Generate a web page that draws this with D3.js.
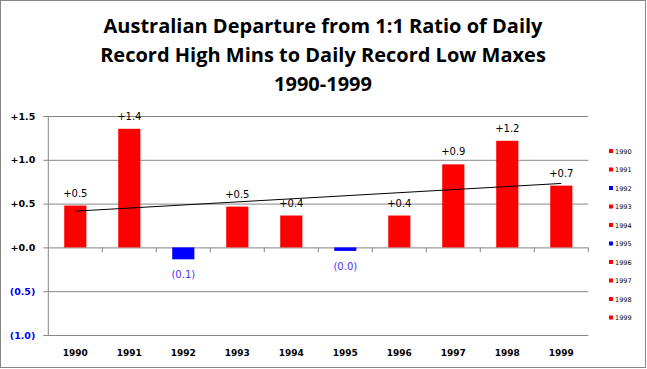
<!DOCTYPE html>
<html>
<head>
<meta charset="utf-8">
<script src="https://cdn.jsdelivr.net/npm/d3@7"></script>
<style>
  body { margin: 0; background: #fff; }
  svg { display: block; }
</style>
</head>
<body>
<svg id="chart"></svg>
<script>
// values
var years = ["1990", "1991", "1992", "1993", "1994", "1995", "1996", "1997", "1998", "1999"];
var departure = [0.478, 1.354, -0.136, 0.466, 0.364, -0.04, 0.364, 0.948, 1.217, 0.705];
var yTicks = [-1.0, -0.5, 0, 0.5, 1.0, 1.5];
var titleLines = ["Australian Departure from 1:1 Ratio of Daily",
                  "Record High Mins to Daily Record Low Maxes",
                  "1990-1999"];

var width = 647, height = 369;
var plotLeft = 48.3, plotRight = 588.3, plotTop = 116, plotBottom = 335;

var red = "#ff0000", blue = "#0000ff", grid = "#868686";

var svg = d3.select("#chart")
  .attr("width", width)
  .attr("height", height);

// outer frame
svg.append("rect")
  .attr("x", 0.5).attr("y", 0.5)
  .attr("width", width - 2).attr("height", height - 2)
  .attr("fill", "#fff")
  .attr("stroke", grid);

// title
svg.append("g").selectAll("text")
  .data(titleLines)
  .join("text")
  .attr("x", 323)
  .attr("y", function(d, i) { return 33 + i * 29; })
  .attr("text-anchor", "middle")
  .style("font-family", "'Open Sans', Lato, sans-serif")
  .style("font-weight", "bold")
  .style("font-size", "20px")
  .text(function(d) { return d; });

var x = d3.scaleBand()
  .domain(years)
  .range([plotLeft, plotRight])
  .padding(0);

var y = d3.scaleLinear()
  .domain([-1, 1.5])
  .range([plotBottom, plotTop]);

var barW = x.bandwidth() * 0.41;

function fmt(v) {
  return v >= 0 ? "+" + v.toFixed(1) : "(" + Math.abs(v).toFixed(1) + ")";
}

// gridlines + y labels
var yAxis = d3.axisLeft(y)
  .tickValues(yTicks)
  .tickSize(0)
  .tickFormat(fmt);

var gy = svg.append("g")
  .attr("transform", "translate(" + (plotLeft - 5) + ",0)")
  .call(yAxis);
gy.select(".domain").remove();
gy.selectAll(".tick line")
  .attr("x1", 0)
  .attr("x2", plotRight - plotLeft + 5)
  .attr("stroke", grid);
gy.selectAll(".tick text")
  .attr("x", -8)
  .style("font-family", "'DejaVu Sans', sans-serif")
  .style("font-weight", "bold")
  .style("font-size", "9.5px")
  .attr("fill", function(d) { return d < 0 ? blue : "#000"; });

// left axis line
svg.append("line")
  .attr("x1", plotLeft).attr("x2", plotLeft)
  .attr("y1", plotTop).attr("y2", plotBottom)
  .attr("stroke", grid);

// category ticks on the zero line
svg.append("g").selectAll("line")
  .data(years.slice(1).concat(["end"]))
  .join("line")
  .attr("x1", function(d) { return d === "end" ? plotRight : x(d); })
  .attr("x2", function(d) { return d === "end" ? plotRight : x(d); })
  .attr("y1", y(0))
  .attr("y2", y(0) + 5)
  .attr("stroke", grid);

// bars
svg.append("g").selectAll("rect")
  .data(departure)
  .join("rect")
  .attr("x", function(d, i) { return x(years[i]) + (x.bandwidth() - barW) / 2; })
  .attr("y", function(d) { return y(Math.max(0, d)); })
  .attr("width", barW)
  .attr("height", function(d) { return Math.abs(y(d) - y(0)); })
  .attr("fill", function(d) { return d < 0 ? blue : red; });

// data labels
svg.append("g").selectAll("text")
  .data(departure)
  .join("text")
  .attr("x", function(d, i) { return x(years[i]) + x.bandwidth() / 2; })
  .attr("y", function(d) { return d >= 0 ? y(d) - 9 : y(d) + 19; })
  .attr("text-anchor", "middle")
  .style("font-family", "'DejaVu Sans', sans-serif")
  .style("font-size", "10px")
  .attr("fill", function(d) { return d < 0 ? "#4433ff" : "#000"; })
  .text(fmt);

// linear trend
var n = departure.length;
var mx = d3.mean(d3.range(n)), my = d3.mean(departure);
var slope = d3.sum(departure, function(d, i) { return (i - mx) * (d - my); }) /
            d3.sum(d3.range(n), function(i) { return (i - mx) * (i - mx); });
var icpt = my - slope * mx;
svg.append("line")
  .attr("x1", x(years[0]) + x.bandwidth() / 2)
  .attr("y1", y(icpt))
  .attr("x2", x(years[n - 1]) + x.bandwidth() / 2)
  .attr("y2", y(icpt + slope * (n - 1)))
  .attr("stroke", "#000")
  .attr("stroke-width", 1);

// x labels
svg.append("g").selectAll("text")
  .data(years)
  .join("text")
  .attr("x", function(d) { return x(d) + x.bandwidth() / 2; })
  .attr("y", 356)
  .attr("text-anchor", "middle")
  .style("font-family", "'DejaVu Sans', sans-serif")
  .style("font-weight", "bold")
  .style("font-size", "9px")
  .text(function(d) { return d; });

// legend
var legend = svg.append("g").selectAll("g")
  .data(years)
  .join("g")
  .attr("transform", function(d, i) { return "translate(609," + (151 + i * 18.5) + ")"; });
legend.append("rect")
  .attr("x", 0).attr("y", -2)
  .attr("width", 4).attr("height", 4)
  .attr("fill", function(d, i) { return departure[i] < 0 ? blue : red; });
legend.append("text")
  .attr("x", 6)
  .attr("y", 2.5)
  .style("font-family", "'DejaVu Sans', sans-serif")
  .style("font-size", "6.5px")
  .text(function(d) { return d; });
</script>
</body>
</html>
